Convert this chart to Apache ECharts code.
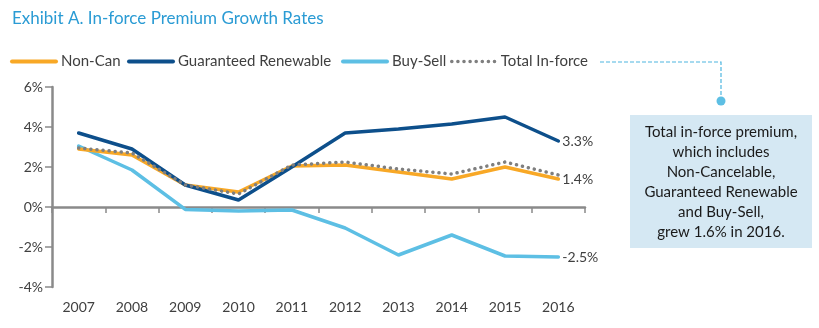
<!DOCTYPE html>
<html><head><meta charset="utf-8">
<script src="https://cdn.jsdelivr.net/npm/echarts@6/dist/echarts.min.js"></script>
<style>html,body{margin:0;padding:0;background:#fff}#c{width:819px;height:328px}</style>
</head><body><div id="c"></div>
<script>
var years = ['2007','2008','2009','2010','2011','2012','2013','2014','2015','2016'];
var nonCan = [2.9, 2.6, 1.1, 0.75, 2.05, 2.1, 1.75, 1.4, 2.0, 1.4];
var guarRenew = [3.7, 2.9, 1.1, 0.35, 2.0, 3.7, 3.9, 4.15, 4.5, 3.3];
var buySell = [3.05, 1.85, -0.12, -0.2, -0.15, -1.05, -2.4, -1.4, -2.45, -2.5];
var totalInForce = [2.95, 2.7, 1.1, 0.65, 2.1, 2.25, 1.9, 1.65, 2.25, 1.6];
var seriesNames = ['Non-Can', 'Guaranteed Renewable', 'Buy-Sell', 'Total In-force'];
var endLabels = ['1.4%', '3.3%', '-2.5%', ''];
var yTicks = {min: -4, max: 6, interval: 2};
var titleText = 'Exhibit A. In-force Premium Growth Rates';
var calloutLines = ['Total in-force premium,', 'which includes', 'Non-Cancelable,', 'Guaranteed Renewable', 'and Buy-Sell,', 'grew 1.6% in 2016.'];

var FONT = 'Lato';
var TXT = '#404040';
var colors = ['#f8a826', '#0d4f8b', '#5dbfe4', '#7f7f7f'];
var dataArr = [nonCan, guarRenew, buySell, totalInForce];
var legendLefts = [10, 127, 341, 450];

var chart = echarts.init(document.getElementById('c'), null, {renderer: 'canvas'});
var series = [2, 0, 1, 3].map(function (i) {
  return {
    name: seriesNames[i], type: 'line', data: dataArr[i], symbol: 'none',
    xAxisIndex: 0,
    lineStyle: {color: colors[i], width: 3.5, type: i === 3 ? [0.1, 6] : 'solid', cap: 'round'},
    itemStyle: {color: colors[i]},
    endLabel: {show: endLabels[i] !== '', formatter: endLabels[i], color: TXT, fontFamily: FONT, fontSize: 14, distance: 4},
    z: i === 3 ? 5 : 3,
    silent: true
  };
});
var legends = seriesNames.map(function (n, i) {
  return {
    data: [n], left: legendLefts[i], top: 54, padding: 0, itemWidth: 44, itemHeight: 14,
    textStyle: {color: TXT, fontFamily: FONT, fontSize: 15}, itemGap: 0,
    itemStyle: {opacity: 0, borderWidth: 0},
    lineStyle: i === 3 ? {type: [0.1, 6], width: 3.5, cap: 'round'} : {width: 4}
  };
});

var graphics = [
  {type: 'polyline', shape: {points: [[600, 62], [721, 62], [721, 100]]}, style: {stroke: '#4fb6e0', lineWidth: 1.2, lineDash: [4, 2], fill: null}},
  {type: 'circle', shape: {cx: 721, cy: 101, r: 4.5}, style: {fill: '#5dbfe4'}},
  {type: 'rect', shape: {x: 630, y: 115, width: 182, height: 133}, style: {fill: '#d5e8f3'}}
];
calloutLines.forEach(function (t, k) {
  graphics.push({type: 'text', x: 721, y: 132 + k * 20, style: {text: t, fill: '#1a1a1a', font: '15px ' + FONT, textAlign: 'center', textVerticalAlign: 'middle'}});
});

chart.setOption({
  animation: false,
  title: {text: titleText, left: 12, top: 10, padding: 0, textStyle: {color: '#2a9bd4', fontFamily: FONT, fontSize: 17, fontWeight: 'normal'}},
  legend: legends,
  grid: {left: 52, right: 234, top: 87, bottom: 41},
  xAxis: [
    {type: 'category', data: years, boundaryGap: true, position: 'bottom',
     axisLine: {onZero: true, lineStyle: {color: '#8a8a8a', width: 2.5}},
     axisTick: {show: true, length: 6, lineStyle: {color: '#8a8a8a', width: 1.5}},
     axisLabel: {show: false}, splitLine: {show: false}},
    {type: 'category', data: years, boundaryGap: true, position: 'bottom',
     axisLine: {show: false, onZero: false}, axisTick: {show: false},
     axisLabel: {color: TXT, fontFamily: FONT, fontSize: 14, margin: 13}, splitLine: {show: false}}
  ],
  yAxis: {type: 'value', min: yTicks.min, max: yTicks.max, interval: yTicks.interval,
    axisLine: {show: true, lineStyle: {color: '#8a8a8a', width: 2.5}},
    axisTick: {show: true, length: 7, lineStyle: {color: '#8a8a8a', width: 1.5}},
    axisLabel: {color: TXT, fontFamily: FONT, fontSize: 14, margin: 9, formatter: '{value}%'},
    splitLine: {show: false}},
  series: series,
  graphic: graphics
});
</script></body></html>
